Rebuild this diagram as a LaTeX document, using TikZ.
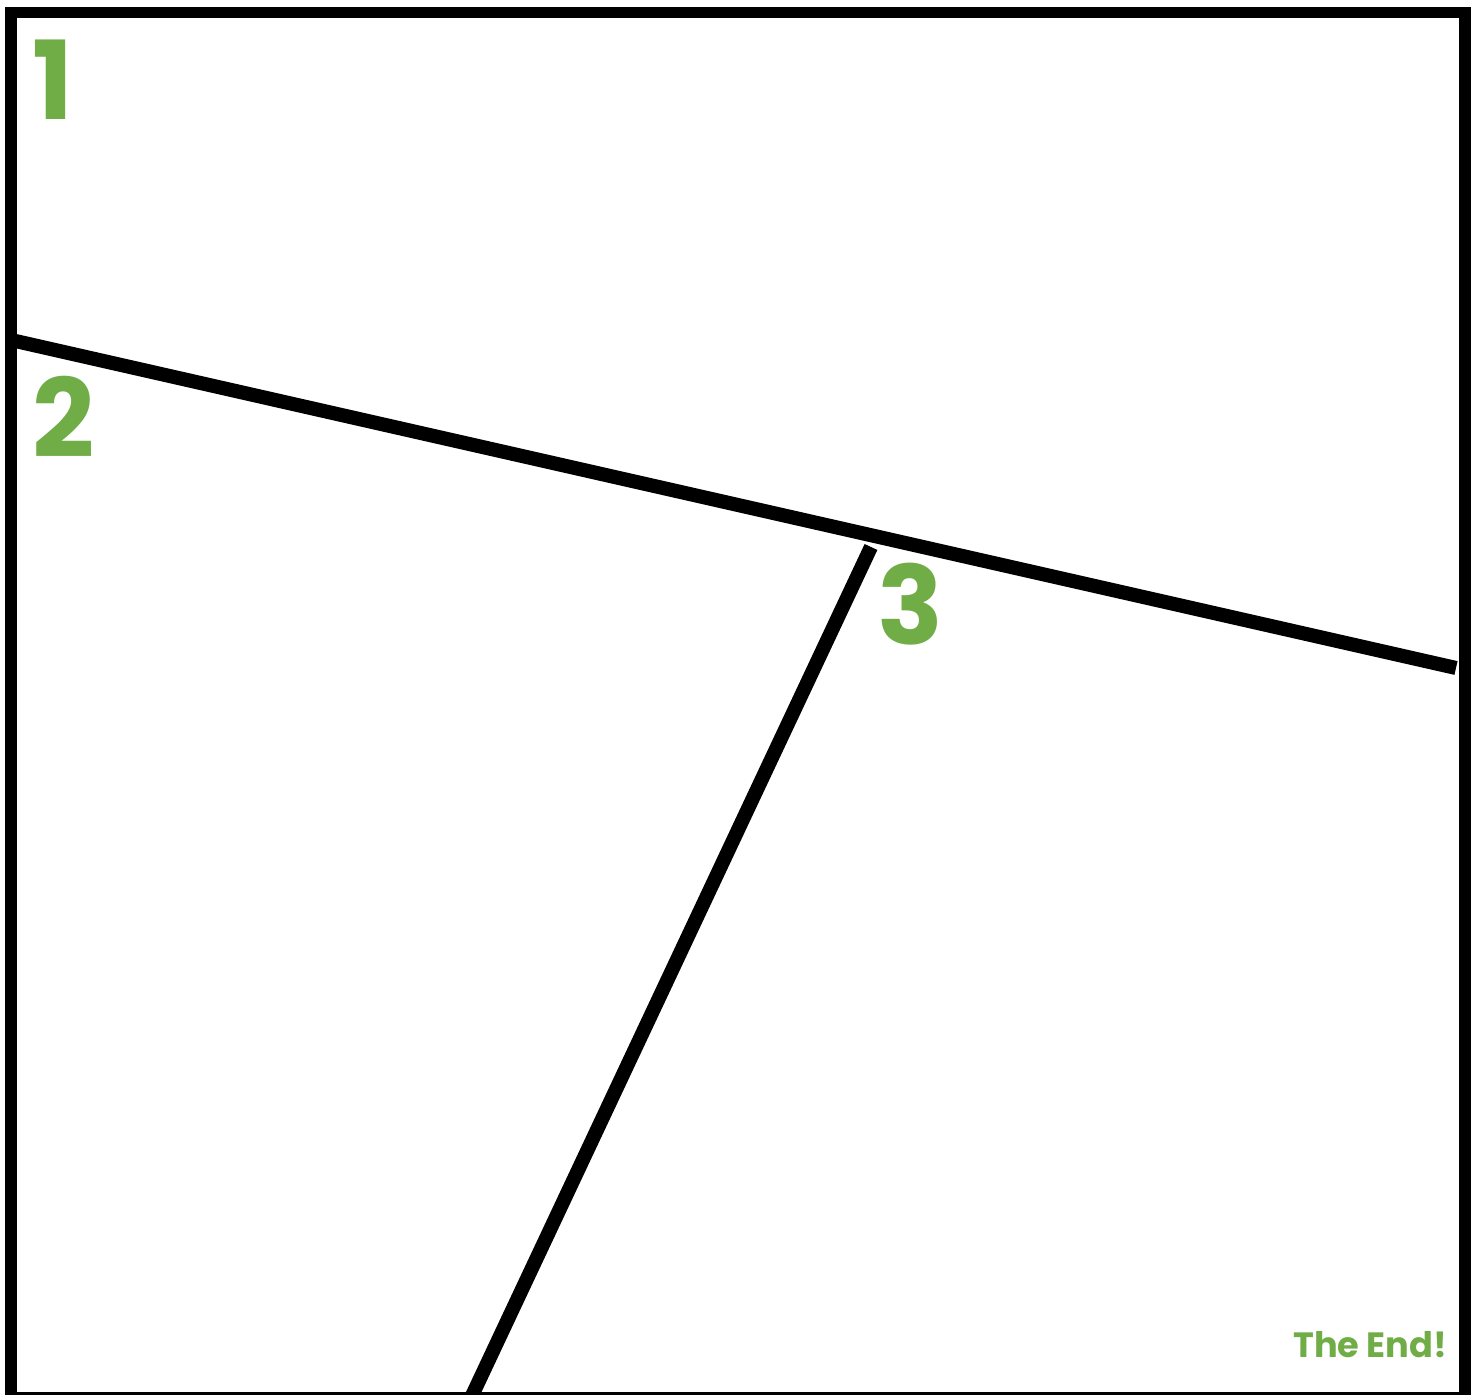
\documentclass[tikz,border=0pt]{standalone}
\usepackage{fontspec}
\setmainfont{Poppins}
\usetikzlibrary{positioning}
\definecolor{leaf}{HTML}{70AD47}
\tikzset{
  frameline/.style={draw=black, line width=3.4pt},
  cutline/.style={draw=black, line width=4pt, line cap=butt},
  bignum/.style={text=leaf, font=\fontsize{31}{31}\selectfont\bfseries, inner sep=0pt},
  endnote/.style={text=leaf, font=\fontsize{10}{12}\selectfont\bfseries, inner sep=0pt}
}
\begin{document}
\begin{tikzpicture}[x=0.01cm,y=-0.01cm]
  \useasboundingbox (0,0) rectangle (1478,1395);
  % frame
  \draw[frameline] (11,12.5) rectangle (1465,1398);
  % cut lines
  \coordinate (ca) at (11,340);
  \coordinate (cb) at (1456,668);
  \coordinate (cc) at (871,547);
  \coordinate (cd) at (470,1400);
  \draw[cutline] (ca) -- (cb);
  \draw[cutline] (cc) -- (cd);
  % labels
  \node[bignum,anchor=base west] (one)   at (32,120) {1};
  \node[bignum,anchor=base west] (two)   at (32,458) {2};
  \node[bignum,anchor=base west] (three) at (877,645) {3};
  \node[endnote,anchor=base east] (theend) at (1448,1358) {The End!};
\end{tikzpicture}
\end{document}
